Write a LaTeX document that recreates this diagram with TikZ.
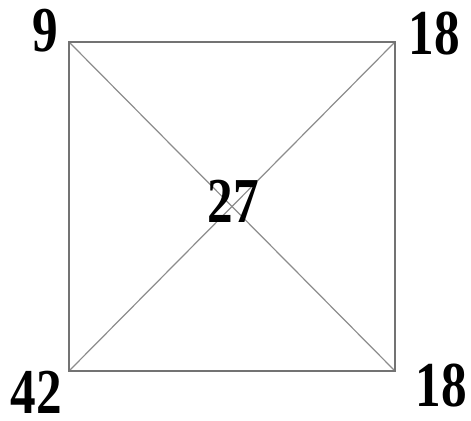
\documentclass[tikz,border=0pt]{standalone}
\usepackage{fontspec}
\setmainfont{Liberation Serif}
\usepackage{tikz}
\usetikzlibrary{positioning}

\begin{document}
\begin{tikzpicture}[
  x=0.5pt, y=-0.5pt,
  num/.style={font=\fontsize{32}{32}\selectfont\bfseries, inner sep=0pt, xscale=0.8},
  edge/.style={draw=black!55, line width=1pt},
  diag/.style={draw=black!45, line width=0.6pt}
]
\useasboundingbox (0,0) rectangle (471,421);
\coordinate (tl) at (69,42);
\coordinate (tr) at (395,42);
\coordinate (br) at (395,371);
\coordinate (bl) at (69,371);

\draw[diag] (tl) -- (br);
\draw[diag] (tr) -- (bl);
\draw[edge] (tl) -- (tr) -- (br) -- (bl) -- cycle;

\node[num] (ntl) at (45,31) {9};
\node[num] (ntr) at (434,34) {18};
\node[num] (nc) at (233,201) {27};
\node[num] (nbl) at (36,392) {42};
\node[num] (nbr) at (441,386) {18};
\end{tikzpicture}
\end{document}
